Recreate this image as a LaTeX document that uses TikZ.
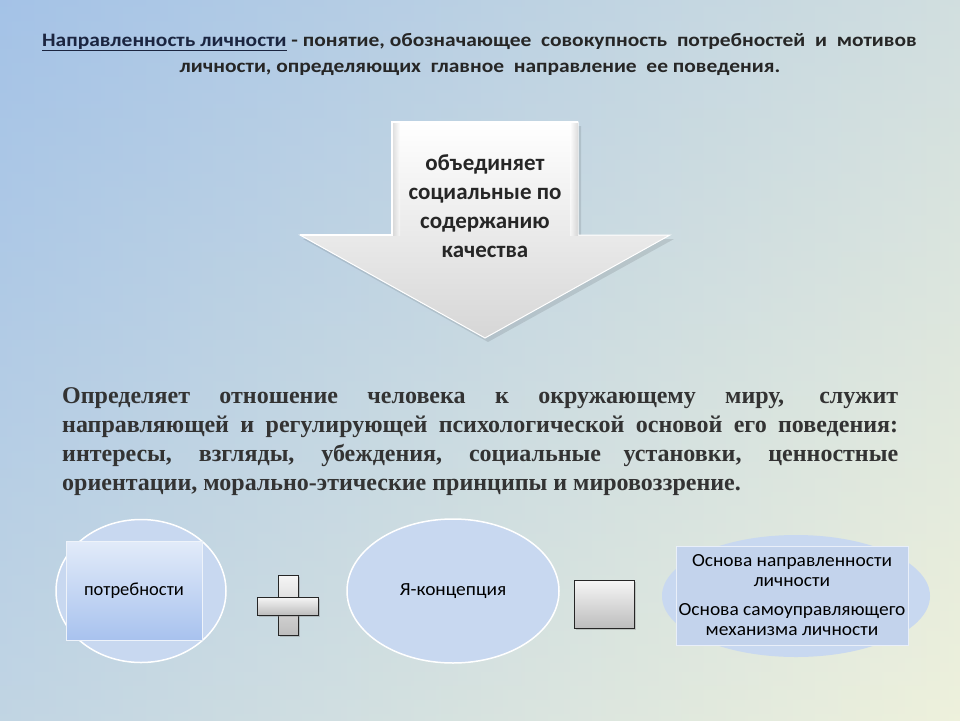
\documentclass[tikz,border=0pt]{standalone}
\usepackage{fontspec}
\usepackage{graphicx}
\setmainfont{Liberation Serif}
\newfontfamily\calfont{Carlito}
\usetikzlibrary{shadows,shapes.geometric}
\definecolor{bgL}{HTML}{A9C6E8}
\definecolor{bgR}{HTML}{EEF1DC}
\definecolor{bgT}{HTML}{9CBDE6}
\definecolor{navy}{HTML}{1B2540}
\definecolor{txt}{HTML}{262626}
\definecolor{para}{HTML}{333333}
\definecolor{ellfill}{HTML}{C8D8F0}
\definecolor{r3fill}{HTML}{C3D3EC}
\definecolor{rectTop}{HTML}{E2EBF9}
\definecolor{rectBot}{HTML}{A8C2EE}
\definecolor{grayTop}{HTML}{F6F6F6}
\definecolor{grayBot}{HTML}{BDBDBD}
\tikzset{
  ellbox/.style={ellipse, draw=white, line width=1.5pt, fill=ellfill},
  graybox/.style={draw=black!85, line width=0.9pt, top color=grayTop, bottom color=grayBot,
    drop shadow={shadow xshift=1.5pt, shadow yshift=-1.5pt, opacity=0.35}},
  smalltxt/.style={font=\calfont\fontsize{18.5}{20}\selectfont, text=black},
}
\begin{document}
\begin{tikzpicture}[x=1pt,y=-1pt]
\useasboundingbox (0,0) rectangle (960,720);
% background
\shade[left color=bgL, right color=bgR] (0,0) rectangle (960,720);
\shade[top color=bgT, bottom color=bgR, opacity=0.35] (0,0) rectangle (960,720);

% header
\node[anchor=west, font=\calfont\bfseries\fontsize{19}{22}\selectfont, text=txt, inner sep=0] (h1) at (42,42)
  {\scalebox{1.13}[1]{\textcolor{navy}{\underline{Направленность личности}} - понятие, обозначающее\ \ совокупность\ \ потребностей\ \ и\ \ мотивов}};
\node[font=\calfont\bfseries\fontsize{19}{22}\selectfont, text=txt, inner sep=0] (h2) at (480,69)
  {\scalebox{1.13}[1]{личности, определяющих\ \ главное\ \ направление\ \ ее поведения.}};

% arrow
\fill[black, opacity=0.10] (395,126) -- (581,126) -- (581,239) -- (674,239) -- (488,342) -- (303,239) -- (395,239) -- cycle;
\shade[top color=white, bottom color=black!16, draw=white, line width=1pt]
  (392,122) -- (578,122) -- (578,235) -- (670,235) -- (485,338) -- (300,235) -- (392,235) -- cycle;
\shade[left color=black!22, right color=white, opacity=0.6] (392,122) rectangle (400,235);
\shade[left color=white, right color=black!22, opacity=0.6] (570,122) rectangle (578,235);
\draw[white, line width=1.2pt] (300,235) -- (392,235) -- (392,122) -- (578,122);
\node[align=center, font=\calfont\bfseries\fontsize{23}{29}\selectfont, text=txt] (arrtxt) at (485,206)
  {объединяет\\социальные по\\содержанию\\качества};

% paragraph
\node[anchor=north west, text width=836pt, align=justify, inner sep=0, text=para,
  font=\bfseries\fontsize{24}{29}\selectfont] (par) at (62,387)
  {Определяет отношение человека к окружающему миру, служит\linebreak направляющей и регулирующей психологической основой его поведения:\linebreak интересы, взгляды, убеждения, социальные установки, ценностные\linebreak ориентации, морально-этические принципы и мировоззрение.};

% bottom row
\node[ellbox, minimum width=170pt, minimum height=143pt] (e1) at (141,591) {};
\node[draw=white!70!ellfill, line width=0.8pt, top color=rectTop, bottom color=rectBot,
  minimum width=136pt, minimum height=99pt, smalltxt] (r1) at (134,590.5) {потребности};

% plus
\node[graybox, minimum width=20pt, minimum height=60pt, inner sep=0] (pv) at (288,605) {};
\node[graybox, minimum width=61pt, minimum height=18pt, inner sep=0] (ph) at (287.5,606) {};

\node[ellbox, minimum width=212pt, minimum height=144pt, smalltxt] (e2) at (453,591) {\scalebox{1.05}[1]{Я-концепция}};

\node[graybox, minimum width=60pt, minimum height=48pt, inner sep=0] (eq) at (604,604) {};

\node[ellbox, draw=none, minimum width=268pt, minimum height=122pt] (e3) at (796,596) {};
\node[draw=white!60!ellfill, line width=0.8pt, fill=r3fill, minimum width=232pt, minimum height=99pt] (r3) at (792,595.5) {};
\node[smalltxt, align=center] (t3a) at (792,571) {\scalebox{1.05}[1]{Основа направленности}\\\scalebox{1.05}[1]{личности}};
\node[smalltxt, align=center] (t3b) at (792,620) {\scalebox{1.05}[1]{Основа самоуправляющего}\\\scalebox{1.05}[1]{механизма личности}};
\end{tikzpicture}
\end{document}
